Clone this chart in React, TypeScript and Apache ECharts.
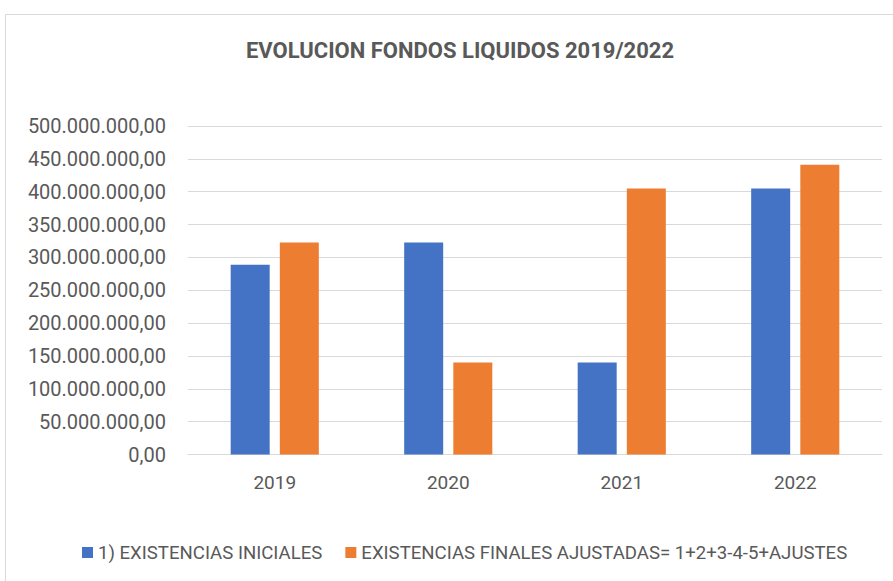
import React, { useEffect, useRef } from "react";
import * as echarts from "echarts";

const categories: string[] = ["2019", "2020", "2021", "2022"];
const seriesNames: string[] = [
  "1) EXISTENCIAS INICIALES",
  "EXISTENCIAS FINALES AJUSTADAS= 1+2+3-4-5+AJUSTES",
];
const existenciasIniciales: number[] = [289000000, 322700000, 140200000, 405000000];
const existenciasFinales: number[] = [322700000, 140200000, 405000000, 441000000];
const titleText = "EVOLUCION FONDOS LIQUIDOS 2019/2022";

const fmt = (v: number): string => {
  const intPart = Math.round(v).toString().replace(/\B(?=(\d{3})+(?!\d))/g, ".");
  return intPart + ",00";
};

export default function App() {
  const ref = useRef<HTMLDivElement>(null);
  useEffect(() => {
    if (!ref.current) return;
    const chart = echarts.init(ref.current, undefined, { renderer: "svg" });
    const textColor = "#595959";
    chart.setOption({
      animation: false,
      backgroundColor: "#ffffff",
      graphic: [
        {
          type: "rect",
          shape: { x: 5.5, y: 14.5, width: 950, height: 650 },
          style: { fill: "none", stroke: "#d9d9d9", lineWidth: 1 },
          silent: true,
        },
      ],
      title: {
        text: titleText,
        left: 455,
        top: 34,
        textAlign: "center",
        textStyle: {
          fontFamily: "Roboto",
          fontWeight: "bold",
          fontSize: 22,
          color: textColor,
        },
      },
      legend: {
        left: 77,
        top: 538,
        itemWidth: 11,
        itemHeight: 11,
        itemGap: 23,
        icon: "rect",
        textStyle: { fontFamily: "Roboto", fontSize: 18.6, color: textColor },
        data: seriesNames,
      },
      grid: { left: 188, right: 11, top: 126, bottom: 126.5, containLabel: false },
      xAxis: {
        type: "category",
        data: categories,
        axisLine: { show: true, lineStyle: { color: "#d9d9d9", width: 1 } },
        axisTick: { show: false },
        axisLabel: { margin: 18, fontFamily: "Roboto", fontSize: 19, color: textColor },
      },
      yAxis: {
        type: "value",
        min: 0,
        max: 500000000,
        interval: 50000000,
        axisLine: { show: false },
        axisTick: { show: false },
        splitLine: { lineStyle: { color: "#d9d9d9", width: 1 } },
        axisLabel: {
          margin: 22,
          fontFamily: "Roboto",
          fontSize: 20,
          color: textColor,
          formatter: (v: number) => fmt(v),
        },
      },
      series: [
        {
          name: seriesNames[0],
          type: "bar",
          data: existenciasIniciales,
          barWidth: 39,
          barGap: "26%",
          itemStyle: { color: "#4472C4" },
        },
        {
          name: seriesNames[1],
          type: "bar",
          data: existenciasFinales,
          barWidth: 39,
          barGap: "26%",
          itemStyle: { color: "#ED7D31" },
        },
      ],
    });
    return () => chart.dispose();
  }, []);
  return (
    <div
      ref={ref}
      style={{ position: "fixed", left: 0, top: 0, width: 893, height: 581 }}
    />
  );
}
